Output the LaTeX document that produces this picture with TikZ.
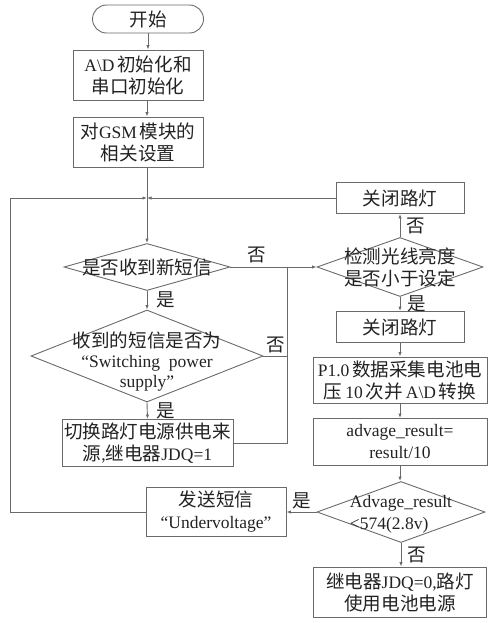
\documentclass[tikz,border=0pt]{standalone}
\usepackage{fontspec}
\setmainfont{Liberation Serif}
\newfontfamily\cjk[Scale=1.06]{Noto Sans CJK SC}
\usetikzlibrary{shapes.geometric,arrows.meta}
\newcommand\zh[1]{{\cjk #1}}
\definecolor{ln}{HTML}{6A6A6A}
\definecolor{tx}{HTML}{222222}
\begin{document}
\begin{tikzpicture}[x=1pt,y=-1pt,
  every node/.style={font=\fontsize{17.5}{22}\selectfont, text=tx},
  box/.style={draw=ln, line width=0.9pt, rectangle, inner sep=0pt, align=center},
  dia/.style={draw=ln, line width=0.9pt, diamond, inner sep=0pt},
  dtext/.style={align=center, inner sep=0pt},
  lbl/.style={inner sep=0pt},
  con/.style={draw=ln, line width=0.9pt},
  arr/.style={con, -{Latex[length=4.5pt,width=3.4pt]}}
]
\useasboundingbox (0,0) rectangle (500,623);

% left column
\node[box, rounded corners=14pt, minimum width=111pt, minimum height=28pt] (start) at (148,19) {\zh{开始}};
\node[box, minimum width=130pt, minimum height=50pt] (b1) at (138,75) {A\textbackslash D\,\zh{初始化和}\\\zh{串口初始化}};
\node[box, minimum width=130pt, minimum height=50pt] (b2) at (138,142) {\zh{对}GSM\,\zh{模块的}\\\zh{相关设置}};
\coordinate (j) at (147,198);
\node[dia, minimum width=166pt, minimum height=47pt] (d1) at (147,267) {};
\node[dtext] (d1t) at (147,267) {\zh{是否收到新短信}};
\node[dia, minimum width=232pt, minimum height=92pt] (d2) at (147,356) {};
\node[dtext, font=\fontsize{17.5}{20}\selectfont] (d2t) at (147,362) {\zh{收到的短信是否为}\\“Switching\ \ power\\supply”};
\node[box, minimum width=171pt, minimum height=47pt] (b3) at (147.5,443) {\zh{切换路灯电源供电来}\\\zh{源},\zh{继电器}JDQ=1};
\node[box, minimum width=140pt, minimum height=49pt] (u) at (216,512) {\zh{发送短信}\\“Undervoltage”};

% right column
\node[box, minimum width=128pt, minimum height=31pt] (t1) at (400,198) {\zh{关闭路灯}};
\node[dia, minimum width=166pt, minimum height=59pt] (d3) at (400,267) {};
\node[dtext] (d3t) at (400,267) {\zh{检测光线亮度}\\\zh{是否小于设定}};
\node[box, minimum width=128pt, minimum height=31pt] (c2) at (400,327) {\zh{关闭路灯}};
\node[box, minimum width=174pt, minimum height=46pt] (p) at (400,380) {P1.0\,\zh{数据采集电池电}\\\zh{压}\,10\,\zh{次并}\,A\textbackslash D\,\zh{转换}};
\node[box, minimum width=174pt, minimum height=47pt] (a) at (400,442) {advage\_result=\\result/10};
\node[dia, minimum width=168pt, minimum height=61pt] (d4) at (401,512) {};
\node[dtext, align=left] (d4t) at (401,514) {Advage\_result\\<574(2.8v)};
\node[box, minimum width=173pt, minimum height=50pt] (f) at (400,592) {\zh{继电器}JDQ=0,\zh{路灯}\\\zh{使用电池电源}};

\coordinate (lx) at (10,0);
\coordinate (rx) at (287,0);

% connectors
\draw[arr] (start.south) -- (start.south |- b1.north);
\draw[arr] (b1.south -| j) -- (b2.north -| j);
\draw[arr] (b2.south -| j) -- (d1.north);
\draw[arr] (u.west) -- (u.west -| lx) -- (j -| lx) -- (j);
\draw[arr] (t1.west) -- (j);
\draw[arr] (d1.south) -- (d2.north) node[lbl, midway, right=9pt] (l1) {\zh{是}};
\draw[arr] (d2.south) -- (b3.north) node[lbl, midway, right=9pt] (l2) {\zh{是}};
\draw[arr] (d1.east) -- (d3.west) node[lbl, pos=0.3, above=4pt] (l3) {\zh{否}};
\draw[con] (d2.east) -- (d2.east -| rx);
\draw[con] (b3.east) -- (b3.east -| rx) -- (d1.east -| rx);
\node[lbl, anchor=south west, xshift=3pt, yshift=3pt] (l4) at (d2.east) {\zh{否}};
\draw[arr] (d3.north) -- (t1.south) node[lbl, midway, right=6pt] (l5) {\zh{否}};
\draw[arr] (d3.south) -- (c2.north) node[lbl, midway, right=7pt] (l6) {\zh{是}};
\draw[arr] (c2.south) -- (p.north);
\draw[arr] (p.south) -- (a.north);
\draw[arr] (a.south) -- (a.south |- d4.north);
\draw[arr] (d4.west) -- (u.east) node[lbl, midway, above=3pt] (l7) {\zh{是}};
\draw[arr] (d4.south) -- (d4.south |- f.north) node[lbl, midway, right=6pt] (l8) {\zh{否}};
\end{tikzpicture}
\end{document}
